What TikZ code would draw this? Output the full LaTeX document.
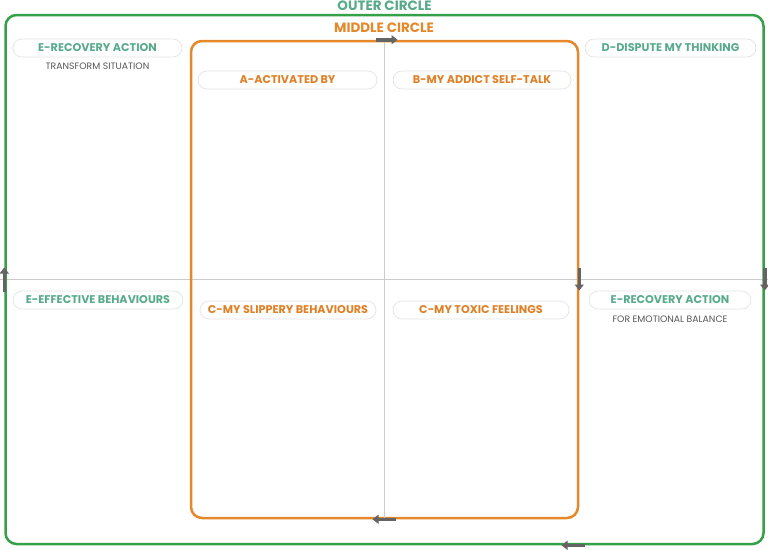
\documentclass[tikz,border=0pt]{standalone}
\usepackage{fontspec}
\setmainfont{Poppins}
\usetikzlibrary{calc, positioning, arrows.meta, shapes}
\definecolor{ringgreen}{RGB}{52,160,72}
\definecolor{ringorange}{RGB}{228,136,42}
\definecolor{outerteal}{RGB}{88,170,140}
\definecolor{middleorange}{RGB}{222,128,38}
\definecolor{flowgray}{RGB}{100,100,100}
\definecolor{notegray}{RGB}{85,85,85}
\tikzset{
    ring/.style={draw, rounded corners=11pt, line width=2.5pt, inner sep=0pt, minimum width=#1},
    pill/.style={draw=gray!22, line width=0.7pt, rounded corners=9pt, inner sep=0pt,
        minimum height=18pt, minimum width=#1, font=\bfseries\fontsize{11.2}{12}\selectfont},
    outer label/.style={pill=#1, text=outerteal},
    middle label/.style={pill=#1, text=middleorange},
    heading/.style={inner sep=0pt, font=\bfseries\fontsize{13.5}{14}\selectfont},
    note/.style={inner sep=0pt, text=notegray, font=\fontsize{9.3}{10}\selectfont},
    axis/.style={draw=gray!40, line width=0.8pt},
    flow/.style={-{Triangle[length=6pt, width=9pt]}, draw=flowgray, line width=3.5pt},
}

\begin{document}
\begin{tikzpicture}[x=1pt, y=-1pt]
\useasboundingbox (0,0) rectangle (768,549);

% quadrant axes
\coordinate (axis west) at (0,279.5);
\coordinate (axis east) at (768,279.5);
\draw[axis] (axis west) -- (axis east);

% circles
\node[ring=758pt, draw=ringgreen, minimum height=529pt] (outer) at (384.5,279.5) {};
\node[ring=387pt, draw=ringorange, minimum height=477pt] (middle) at (384.5,279.5) {};
\draw[axis] (middle.north) -- (middle.south);

\node[heading, text=outerteal] (outer title) at (384.5,6) {OUTER CIRCLE};
\node[heading, text=ringorange] (middle title) at (384,28) {MIDDLE CIRCLE};

% direction of travel
\draw[flow] ($(middle.north)+(-9,0)$) -- ($(middle.north)+(13,0)$);
\draw[flow] ($(middle.east)+(0,-12)$) -- ($(middle.east)+(0,11)$);
\draw[flow] ($(middle.south)+(11,0)$) -- ($(middle.south)+(-12,0)$);
\draw[flow] ($(outer.west)+(0,12)$) -- ($(outer.west)+(0,-12)$);
\draw[flow] ($(outer.east)+(0,-12)$) -- ($(outer.east)+(0,11)$);
\draw[flow] ($(outer.south)+(200,0)$) -- ($(outer.south)+(177,0)$);

% outer circle labels
\node[outer label=169pt] (transform) at (97.5,48) {E-RECOVERY ACTION};
\node[note, below=5pt of transform] (transform note) {TRANSFORM SITUATION};
\node[outer label=171pt] (dispute) at (670.5,48) {D-DISPUTE MY THINKING};
\node[outer label=170pt] (effective) at (98,300) {E-EFFECTIVE BEHAVIOURS};
\node[outer label=162pt] (balance) at (670,300) {E-RECOVERY ACTION};
\node[note, below=6pt of balance] (balance note) {FOR EMOTIONAL BALANCE};

% middle circle labels
\node[middle label=179pt] (activated) at (287.5,80) {A-ACTIVATED BY};
\node[middle label=178pt] (selftalk) at (482,80) {B-MY ADDICT SELF-TALK};
\node[middle label=176pt] (slippery) at (288,310) {C-MY SLIPPERY BEHAVIOURS};
\node[middle label=176pt] (toxic) at (481,310) {C-MY TOXIC FEELINGS};

\end{tikzpicture}
\end{document}
